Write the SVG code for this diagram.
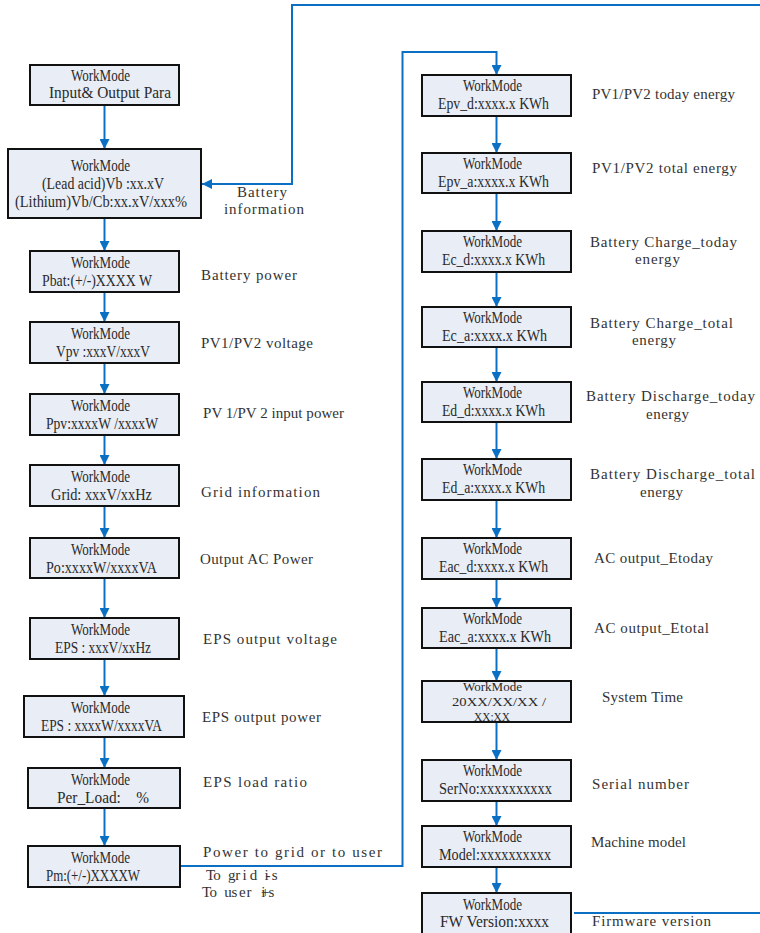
<svg xmlns="http://www.w3.org/2000/svg" width="760" height="933" viewBox="0 0 760 933">
<defs>
<style>
.box{fill:#e8edf6;stroke:#111;stroke-width:2}
.t{font-family:"Liberation Serif","Times New Roman",serif;font-size:15px;fill:#333}
.n{font-family:"Liberation Serif","Times New Roman",serif;font-size:16px;fill:#2a2a2a;text-anchor:middle}
.s{font-size:13px}
.c{fill:none;stroke:#0b70c4;stroke-width:2}
</style>
<marker id="ah" viewBox="0 0 10 10" refX="10" refY="5" markerWidth="10" markerHeight="10" markerUnits="userSpaceOnUse" orient="auto">
<path d="M0,0 L10,5 L0,10 z" fill="#0b70c4"/>
</marker>
</defs>
<rect width="760" height="933" fill="#fff"/>

<g id="connectors">
<path class="c" marker-end="url(#ah)" d="M104.5,105 V149"/>
<path class="c" marker-end="url(#ah)" d="M104.5,218 V251"/>
<path class="c" marker-end="url(#ah)" d="M104.5,292 V322"/>
<path class="c" marker-end="url(#ah)" d="M104.5,363 V394"/>
<path class="c" marker-end="url(#ah)" d="M104.5,435 V465"/>
<path class="c" marker-end="url(#ah)" d="M104.5,506 V538"/>
<path class="c" marker-end="url(#ah)" d="M104.5,578 V618"/>
<path class="c" marker-end="url(#ah)" d="M104.5,659 V696"/>
<path class="c" marker-end="url(#ah)" d="M104.5,737 V768"/>
<path class="c" marker-end="url(#ah)" d="M104.5,808 V846"/>
<path class="c" marker-end="url(#ah)" d="M496.5,116 V153"/>
<path class="c" marker-end="url(#ah)" d="M496.5,193 V231"/>
<path class="c" marker-end="url(#ah)" d="M496.5,272 V307"/>
<path class="c" marker-end="url(#ah)" d="M496.5,347 V382"/>
<path class="c" marker-end="url(#ah)" d="M496.5,422 V459"/>
<path class="c" marker-end="url(#ah)" d="M496.5,500 V538"/>
<path class="c" marker-end="url(#ah)" d="M496.5,579 V608"/>
<path class="c" marker-end="url(#ah)" d="M496.5,648 V681"/>
<path class="c" marker-end="url(#ah)" d="M496.5,722 V760"/>
<path class="c" marker-end="url(#ah)" d="M496.5,801 V826"/>
<path class="c" marker-end="url(#ah)" d="M496.5,867 V893"/>
<path class="c" marker-end="url(#ah)" d="M180,866 H402.5 V52 H496.5 V75"/>
<path class="c" marker-end="url(#ah)" d="M574,913 H772 V5 H292 V184 H202"/>
</g>

<g id="n1"><rect class="box" x="30" y="65" width="149" height="40"/>
<text class="n" x="100.5" y="81" textLength="59" lengthAdjust="spacingAndGlyphs">WorkMode</text>
<text class="n" x="110" y="98" textLength="122" lengthAdjust="spacingAndGlyphs">Input&amp; Output Para</text></g>

<g id="n2"><rect class="box" x="8" y="149" width="193" height="69"/>
<text class="n" x="100.5" y="171" textLength="59" lengthAdjust="spacingAndGlyphs">WorkMode</text>
<text class="n" x="103" y="189" textLength="122" lengthAdjust="spacingAndGlyphs">(Lead acid)Vb :xx.xV</text>
<text class="n" x="101" y="207" textLength="172" lengthAdjust="spacingAndGlyphs">(Lithium)Vb/Cb:xx.xV/xxx%</text></g>

<g id="n3"><rect class="box" x="30" y="251" width="149" height="41"/>
<text class="n" x="100.5" y="268" textLength="59" lengthAdjust="spacingAndGlyphs">WorkMode</text>
<text class="n" x="97" y="286" textLength="110" lengthAdjust="spacingAndGlyphs">Pbat:(+/-)XXXX W</text></g>

<g id="n4"><rect class="box" x="30" y="322" width="149" height="41"/>
<text class="n" x="100.5" y="339" textLength="59" lengthAdjust="spacingAndGlyphs">WorkMode</text>
<text class="n" x="103" y="357" textLength="94" lengthAdjust="spacingAndGlyphs">Vpv :xxxV/xxxV</text></g>

<g id="n5"><rect class="box" x="30" y="394" width="149" height="41"/>
<text class="n" x="100.5" y="411" textLength="59" lengthAdjust="spacingAndGlyphs">WorkMode</text>
<text class="n" x="102" y="429" textLength="112" lengthAdjust="spacingAndGlyphs">Ppv:xxxxW /xxxxW</text></g>

<g id="n6"><rect class="box" x="30" y="465" width="149" height="41"/>
<text class="n" x="100.5" y="482" textLength="59" lengthAdjust="spacingAndGlyphs">WorkMode</text>
<text class="n" x="101.5" y="500" textLength="101" lengthAdjust="spacingAndGlyphs">Grid: xxxV/xxHz</text></g>

<g id="n7"><rect class="box" x="30" y="538" width="149" height="40"/>
<text class="n" x="100.5" y="555" textLength="59" lengthAdjust="spacingAndGlyphs">WorkMode</text>
<text class="n" x="101.5" y="573" textLength="111" lengthAdjust="spacingAndGlyphs">Po:xxxxW/xxxxVA</text></g>

<g id="n8"><rect class="box" x="30" y="618" width="149" height="41"/>
<text class="n" x="100.5" y="635" textLength="59" lengthAdjust="spacingAndGlyphs">WorkMode</text>
<text class="n" x="103" y="653" textLength="96" lengthAdjust="spacingAndGlyphs">EPS : xxxV/xxHz</text></g>

<g id="n9"><rect class="box" x="24" y="696" width="160" height="41"/>
<text class="n" x="100.5" y="713" textLength="59" lengthAdjust="spacingAndGlyphs">WorkMode</text>
<text class="n" x="101.5" y="731" textLength="121" lengthAdjust="spacingAndGlyphs">EPS : xxxxW/xxxxVA</text></g>

<g id="n10"><rect class="box" x="28" y="768" width="152" height="40"/>
<text class="n" x="100.5" y="785" textLength="59" lengthAdjust="spacingAndGlyphs">WorkMode</text>
<text class="n" x="103" y="803" textLength="92" lengthAdjust="spacingAndGlyphs" xml:space="preserve">Per_Load:    %</text></g>

<g id="n11"><rect class="box" x="28" y="846" width="152" height="41"/>
<text class="n" x="100.5" y="863" textLength="59" lengthAdjust="spacingAndGlyphs">WorkMode</text>
<text class="n" x="93" y="881" textLength="94" lengthAdjust="spacingAndGlyphs">Pm:(+/-)XXXXW</text></g>

<g id="r1"><rect class="box" x="422" y="75" width="149" height="41"/>
<text class="n" x="492.5" y="91" textLength="59" lengthAdjust="spacingAndGlyphs">WorkMode</text>
<text class="n" x="493.5" y="109" textLength="111" lengthAdjust="spacingAndGlyphs">Epv_d:xxxx.x KWh</text></g>

<g id="r2"><rect class="box" x="422" y="153" width="149" height="40"/>
<text class="n" x="492.5" y="169" textLength="59" lengthAdjust="spacingAndGlyphs">WorkMode</text>
<text class="n" x="493.5" y="187" textLength="111" lengthAdjust="spacingAndGlyphs">Epv_a:xxxx.x KWh</text></g>

<g id="r3"><rect class="box" x="422" y="231" width="149" height="41"/>
<text class="n" x="492.5" y="247" textLength="59" lengthAdjust="spacingAndGlyphs">WorkMode</text>
<text class="n" x="493.5" y="265" textLength="103" lengthAdjust="spacingAndGlyphs">Ec_d:xxxx.x KWh</text></g>

<g id="r4"><rect class="box" x="422" y="307" width="149" height="40"/>
<text class="n" x="492.5" y="323" textLength="59" lengthAdjust="spacingAndGlyphs">WorkMode</text>
<text class="n" x="494.5" y="341" textLength="105" lengthAdjust="spacingAndGlyphs">Ec_a:xxxx.x KWh</text></g>

<g id="r5"><rect class="box" x="422" y="382" width="149" height="40"/>
<text class="n" x="492.5" y="398" textLength="59" lengthAdjust="spacingAndGlyphs">WorkMode</text>
<text class="n" x="493.5" y="416" textLength="103" lengthAdjust="spacingAndGlyphs">Ed_d:xxxx.x KWh</text></g>

<g id="r6"><rect class="box" x="422" y="459" width="149" height="41"/>
<text class="n" x="492.5" y="475" textLength="59" lengthAdjust="spacingAndGlyphs">WorkMode</text>
<text class="n" x="493.5" y="493" textLength="103" lengthAdjust="spacingAndGlyphs">Ed_a:xxxx.x KWh</text></g>

<g id="r7"><rect class="box" x="422" y="538" width="149" height="41"/>
<text class="n" x="492.5" y="554" textLength="59" lengthAdjust="spacingAndGlyphs">WorkMode</text>
<text class="n" x="493.5" y="572" textLength="109" lengthAdjust="spacingAndGlyphs">Eac_d:xxxx.x KWh</text></g>

<g id="r8"><rect class="box" x="422" y="608" width="149" height="40"/>
<text class="n" x="492.5" y="624" textLength="59" lengthAdjust="spacingAndGlyphs">WorkMode</text>
<text class="n" x="495" y="642" textLength="112" lengthAdjust="spacingAndGlyphs">Eac_a:xxxx.x KWh</text></g>

<g id="r9"><rect class="box" x="422" y="681" width="149" height="41"/>
<text class="n s" x="492.5" y="691" textLength="59" lengthAdjust="spacingAndGlyphs">WorkMode</text>
<text class="n s" x="499" y="706" textLength="94" lengthAdjust="spacingAndGlyphs">20XX/XX/XX /</text>
<text class="n s" x="492" y="721" textLength="36" lengthAdjust="spacingAndGlyphs">XX:XX</text></g>

<g id="r10"><rect class="box" x="422" y="760" width="149" height="41"/>
<text class="n" x="492.5" y="776" textLength="59" lengthAdjust="spacingAndGlyphs">WorkMode</text>
<text class="n" x="495.5" y="794" textLength="113" lengthAdjust="spacingAndGlyphs">SerNo:xxxxxxxxxx</text></g>

<g id="r11"><rect class="box" x="422" y="826" width="149" height="41"/>
<text class="n" x="492.5" y="842" textLength="59" lengthAdjust="spacingAndGlyphs">WorkMode</text>
<text class="n" x="495" y="860" textLength="112" lengthAdjust="spacingAndGlyphs">Model:xxxxxxxxxx</text></g>

<g id="r12"><rect class="box" x="422" y="893" width="149" height="46"/>
<text class="n" x="492.5" y="910" textLength="59" lengthAdjust="spacingAndGlyphs">WorkMode</text>
<text class="n" x="494.5" y="927" textLength="109" lengthAdjust="spacingAndGlyphs">FW Version:xxxx</text></g>

<g id="labels">
<text class="t" x="237" y="197" textLength="50">Battery</text>
<text class="t" x="224" y="214" textLength="80">information</text>
<text class="t" x="201" y="280" textLength="96">Battery power</text>
<text class="t" x="201" y="348" textLength="112">PV1/PV2 voltage</text>
<text class="t" x="203" y="418" textLength="141">PV 1/PV 2 input power</text>
<text class="t" x="201" y="497" textLength="119">Grid information</text>
<text class="t" x="200" y="564" textLength="113">Output AC Power</text>
<text class="t" x="203" y="644" textLength="134">EPS output voltage</text>
<text class="t" x="202" y="722" textLength="119">EPS output power</text>
<text class="t" x="203" y="787" textLength="104">EPS load ratio</text>
<text class="t" x="203" y="857" textLength="179">Power to grid or to user</text>
<text class="t" x="206 213.3 220.6 227.9 235.2 242.5 249.8 257.1 264.4 271.7 265.6" y="880">To grid is-</text>
<text class="t" x="202 209.4 216.8 224.2 231.6 239 246.4 253.8 261.2 268.6 261" y="897">To user is+</text>

<text class="t" x="592" y="99" textLength="143">PV1/PV2 today energy</text>
<text class="t" x="592" y="173" textLength="145">PV1/PV2 total energy</text>
<text class="t" x="590" y="247" textLength="147">Battery Charge_today</text>
<text class="t" x="635" y="264" textLength="45">energy</text>
<text class="t" x="590" y="328" textLength="143">Battery Charge_total</text>
<text class="t" x="632" y="345" textLength="44">energy</text>
<text class="t" x="586" y="401" textLength="169">Battery Discharge_today</text>
<text class="t" x="646" y="419" textLength="43">energy</text>
<text class="t" x="590" y="479" textLength="165">Battery Discharge_total</text>
<text class="t" x="640" y="497" textLength="43">energy</text>
<text class="t" x="594" y="563" textLength="119">AC output_Etoday</text>
<text class="t" x="594" y="633" textLength="115">AC output_Etotal</text>
<text class="t" x="602" y="702" textLength="81">System Time</text>
<text class="t" x="592" y="789" textLength="97">Serial number</text>
<text class="t" x="591" y="847" textLength="95">Machine model</text>
<text class="t" x="592" y="926" textLength="119">Firmware version</text>
</g>
</svg>
